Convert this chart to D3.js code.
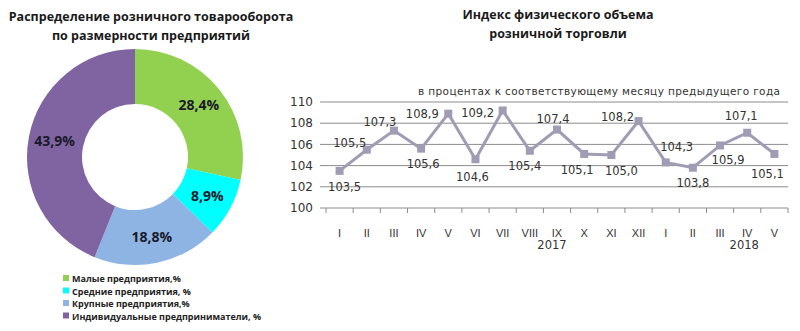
<!DOCTYPE html>
<html lang="ru">
  <head>
    <meta charset="UTF-8" />
    <title>retail trade</title>
    <style>
      body { margin: 0; background: #fff; }
      text { font-family: "DejaVu Sans", sans-serif; }
      .title { font-family: "Open Sans", sans-serif; font-weight: bold; font-size: 12.5px; fill: #1a1a1a; }
    </style>
  </head>
  <body>
    <svg width="800" height="331"></svg>
    <script src="https://cdn.jsdelivr.net/npm/d3@7"></script>
    <script>
      // donut data
      const shareNames = ["Малые предприятия,%", "Средние предприятия, %", "Крупные предприятия,%", "Индивидуальные предприниматели, %"];
      const shareValues = [28.4, 8.9, 18.8, 43.9];
      const shareColors = ["#92d050", "#00ffff", "#8eb4e3", "#8064a2"];

      // line data
      const months = ["I", "II", "III", "IV", "V", "VI", "VII", "VIII", "IX", "X", "XI", "XII", "I", "II", "III", "IV", "V"];
      const years = ["2017", "2018"];
      const indexValues = [103.5, 105.5, 107.3, 105.6, 108.9, 104.6, 109.2, 105.4, 107.4, 105.1, 105.0, 108.2, 104.3, 103.8, 105.9, 107.1, 105.1];
      const yTicks = [100, 102, 104, 106, 108, 110];
      // where each value label sits relative to its point [dx, dy]
      const labelOffsets = [
        [5, 16], [-17, -7], [-14, -9], [2, 15], [-26, 0], [-3, 18], [-25, 2], [-5, 15],
        [-4, -11], [-7, 16], [10, 16], [-21, -4], [11, -15], [0, 15], [8, 15], [-6, -17], [-7, 20]
      ];

      const svg = d3.select("svg");
      const fmt = v => v.toFixed(1).replace(".", ",");

      // ---------- donut ----------
      const titleL = svg.append("text").attr("class", "title").attr("text-anchor", "middle");
      titleL.append("tspan").attr("x", 151).attr("y", 21).text("Распределение розничного товарооборота");
      titleL.append("tspan").attr("x", 151).attr("y", 40).text("по размерности предприятий");

      const pie = d3.pie().sort(null).value(d => d);
      const arcs = pie(shareValues);
      const arc = d3.arc().innerRadius(53).outerRadius(108);
      const labelArc = d3.arc().innerRadius(82).outerRadius(82);
      const g = svg.append("g").attr("transform", "translate(135,157)");
      g.selectAll("path").data(arcs).join("path")
        .attr("d", arc)
        .attr("fill", (d, i) => shareColors[i]);
      g.selectAll("text").data(arcs).join("text")
        .attr("transform", d => `translate(${labelArc.centroid(d)})`)
        .attr("text-anchor", "middle")
        .attr("dy", "0.35em")
        .style("font-family", "Open Sans, sans-serif")
        .style("font-weight", "bold")
        .style("font-size", "14px")
        .attr("fill", "#1a1a2a")
        .text(d => fmt(d.data) + "%");

      const legend = svg.append("g").attr("transform", "translate(63,279)");
      const li = legend.selectAll("g").data(shareNames).join("g")
        .attr("transform", (d, i) => `translate(0,${i * 12.5})`);
      li.append("rect").attr("x", 0).attr("y", -4).attr("width", 6).attr("height", 6)
        .attr("fill", (d, i) => shareColors[i]);
      li.append("text").attr("x", 9).attr("y", 3)
        .style("font-family", "Open Sans, sans-serif")
        .style("font-weight", "bold")
        .style("font-size", "9px")
        .attr("fill", "#222")
        .text(d => d);

      // ---------- line chart ----------
      const titleR = svg.append("text").attr("class", "title").attr("text-anchor", "middle");
      titleR.append("tspan").attr("x", 558).attr("y", 19).text("Индекс физического объема");
      titleR.append("tspan").attr("x", 558).attr("y", 38).text("розничной торговли");

      const x = d3.scaleBand().domain(d3.range(months.length)).range([326, 788]);
      const y = d3.scaleLinear().domain([100, 110]).range([208, 102]);
      const cx = i => x(i) + x.bandwidth() / 2;

      svg.append("text")
        .attr("x", 418).attr("y", 95)
        .attr("textLength", 362)
        .style("font-size", "10.5px")
        .attr("fill", "#333")
        .text("в процентах к соответствующему месяцу предыдущего года");

      const grid = svg.append("g");
      grid.selectAll("line").data(yTicks).join("line")
        .attr("x1", 320).attr("x2", 788)
        .attr("y1", d => y(d)).attr("y2", d => y(d))
        .attr("stroke", "#8c8c8c").attr("stroke-width", 1);
      svg.append("g").selectAll("text").data(yTicks).join("text")
        .attr("x", 313).attr("y", d => y(d)).attr("dy", "0.35em")
        .attr("text-anchor", "end")
        .style("font-size", "12px").attr("fill", "#333")
        .text(d => d);

      // category ticks under the baseline
      svg.append("g").selectAll("line").data(d3.range(months.length + 1)).join("line")
        .attr("x1", i => x.range()[0] + i * x.step()).attr("x2", i => x.range()[0] + i * x.step())
        .attr("y1", y(100)).attr("y2", y(100) + 5)
        .attr("stroke", "#8c8c8c");

      svg.append("g").selectAll("text").data(months).join("text")
        .attr("x", (d, i) => cx(i)).attr("y", 237)
        .attr("text-anchor", "middle")
        .style("font-family", "Liberation Sans, sans-serif")
        .style("font-size", "11px").attr("fill", "#333")
        .text(d => d);
      svg.append("text").attr("x", cx(8) - 5).attr("y", 249).attr("text-anchor", "middle")
        .style("font-size", "11.5px").attr("fill", "#333").text(years[0]);
      svg.append("text").attr("x", cx(15) - 3).attr("y", 249).attr("text-anchor", "middle")
        .style("font-size", "11.5px").attr("fill", "#333").text(years[1]);

      const line = d3.line().x((d, i) => cx(i)).y(d => y(d));
      svg.append("path").datum(indexValues)
        .attr("d", line)
        .attr("fill", "none")
        .attr("stroke", "#a09cb4")
        .attr("stroke-width", 3);
      svg.append("g").selectAll("rect").data(indexValues).join("rect")
        .attr("x", (d, i) => cx(i) - 4).attr("y", d => y(d) - 4)
        .attr("width", 8).attr("height", 8)
        .attr("fill", "#a09cb4");
      svg.append("g").selectAll("text").data(indexValues).join("text")
        .attr("x", (d, i) => cx(i) + labelOffsets[i][0])
        .attr("y", (d, i) => y(d) + labelOffsets[i][1])
        .attr("dy", "0.35em")
        .attr("text-anchor", "middle")
        .style("font-size", "11.5px").attr("fill", "#333")
        .text(d => fmt(d));
    </script>
  </body>
</html>
